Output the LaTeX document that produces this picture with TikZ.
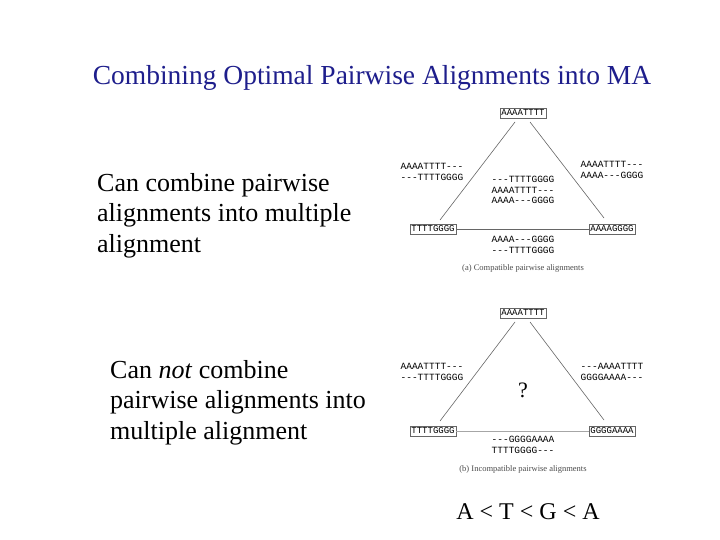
\documentclass[tikz,border=0pt]{standalone}
\usepackage{fontspec}
\setmainfont{Liberation Serif}
\setmonofont{Liberation Mono}
\begin{document}
\begin{tikzpicture}[x=1pt,y=-1pt,
  seq/.style={draw=black!60,font=\ttfamily\fontsize{9}{10}\selectfont,inner sep=1.5pt,minimum height=10pt},
  aln/.style={font=\ttfamily\fontsize{9.5}{10.5}\selectfont,align=left,inner sep=0pt},
  edge/.style={draw=black!60,line width=0.6pt},
  captext/.style={font=\fontsize{8.5}{9}\selectfont,text=black!70},
  big/.style={font=\fontsize{26}{30.5}\selectfont,align=left,anchor=north west,inner sep=0pt}]
\useasboundingbox[fill=white] (0,0) rectangle (720,540);
\node[text={rgb,255:red,30;green,30;blue,140},font=\fontsize{27.5}{30}\selectfont] (title) at (372,78) {Combining Optimal Pairwise Alignments into MA};
\node[big] (t1) at (97,173) {Can combine pairwise\\alignments into multiple\\alignment};
\node[big] (t2) at (110,360) {Can \textit{not} combine\\pairwise alignments into\\multiple alignment};
% triangle a
\node[seq] (a1) at (523,113) {AAAATTTT};
\node[seq] (a2) at (433,229) {TTTTGGGG};
\node[seq] (a3) at (612,229) {AAAAGGGG};
\draw[edge] (515,122) -- (440,220);
\draw[edge] (530,122) -- (604,218);
\draw[edge] (a2) -- (a3);
\node[aln] (la) at (432,172) {AAAATTTT---\\---TTTTGGGG};
\node[aln] (ra) at (612,170) {AAAATTTT---\\AAAA---GGGG};
\node[aln] (ma) at (523,190) {---TTTTGGGG\\AAAATTTT---\\AAAA---GGGG};
\node[aln] (ba) at (523,245) {AAAA---GGGG\\---TTTTGGGG};
\node[captext] (ca) at (523,268) {(a) Compatible pairwise alignments};
% triangle b
\node[seq] (b1) at (523,313) {AAAATTTT};
\node[seq] (b2) at (433,431) {TTTTGGGG};
\node[seq] (b3) at (612,431) {GGGGAAAA};
\draw[edge] (515,322) -- (440,421);
\draw[edge] (530,322) -- (604,420);
\draw[edge,draw=black!35] (b2) -- (b3);
\node[aln] (lb) at (432,372) {AAAATTTT---\\---TTTTGGGG};
\node[aln] (rb) at (612,372) {---AAAATTTT\\GGGGAAAA---};
\node[font=\fontsize{22}{22}\selectfont] (q) at (523,390) {?};
\node[aln] (bb) at (523,445) {---GGGGAAAA\\TTTTGGGG---};
\node[captext] (cb) at (523,469) {(b) Incompatible pairwise alignments};
\node[font=\fontsize{24}{28}\selectfont] (ord) at (528,512) {A < T < G < A};
\end{tikzpicture}
\end{document}
